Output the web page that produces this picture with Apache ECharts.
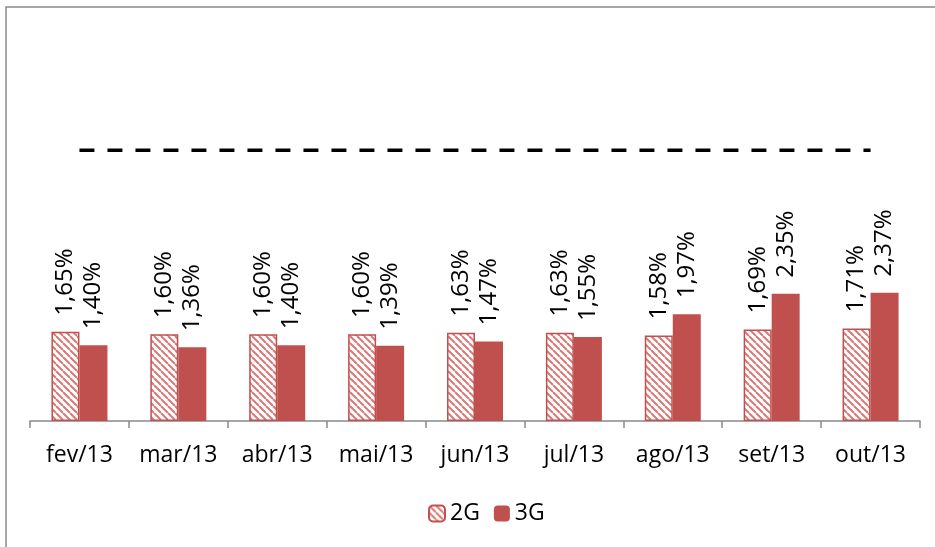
<!DOCTYPE html>
<html>
<head>
<meta charset="utf-8">
<script src="https://cdn.jsdelivr.net/npm/echarts@6/dist/echarts.min.js"></script>
<style>
html,body{margin:0;padding:0;background:#fff;}
#chart{width:935px;height:547px;}
</style>
</head>
<body>
<div id="chart"></div>
<script>
const categories = ['fev/13','mar/13','abr/13','mai/13','jun/13','jul/13','ago/13','set/13','out/13'];
const values2G = [1.65,1.60,1.60,1.60,1.63,1.63,1.58,1.69,1.71];
const values3G = [1.40,1.36,1.40,1.39,1.47,1.55,1.97,2.35,2.37];
const targetValues = [5,5,5,5,5,5,5,5,5];

function makeHatch(){
  const s = 7;
  const c = document.createElement('canvas');
  c.width = s; c.height = s;
  const g = c.getContext('2d');
  g.fillStyle = '#ffffff';
  g.fillRect(0,0,s,s);
  g.strokeStyle = '#d77a77';
  g.lineWidth = 2;
  for (const k of [-s,0,s]) {
    g.beginPath();
    g.moveTo(k,0);
    g.lineTo(k+s,s);
    g.stroke();
  }
  return c;
}
const hatch = makeHatch();
const FONT = 'Open Sans';
const fmt = p => p.value.toFixed(2).replace('.',',') + '%';

const chart = echarts.init(document.getElementById('chart'));
chart.setOption({
  animation:false,
  backgroundColor:'#ffffff',
  textStyle:{fontFamily:FONT},
  graphic:[{
    type:'rect',
    shape:{x:6,y:7,width:1000,height:1000},
    style:{fill:'none',stroke:'#8a8a8a',lineWidth:1.5},
    silent:true,
    z:-10
  }],
  grid:{left:30,right:15,top:42,bottom:126},
  legend:{
    data:[
      {name:'2G'},
      {name:'3G',itemStyle:{color:'#c0504d'}}
    ],
    left:423,
    top:497,
    itemWidth:16,
    itemHeight:16,
    itemGap:14,
    textStyle:{fontFamily:FONT,fontSize:23,color:'#000'}
  },
  xAxis:{
    type:'category',
    data:categories,
    axisLine:{lineStyle:{color:'#898989',width:1.5}},
    axisTick:{show:true,length:7,interval:0,lineStyle:{color:'#898989',width:1.5}},
    axisLabel:{fontFamily:FONT,fontSize:23,color:'#000',margin:23,interval:0}
  },
  yAxis:{
    type:'value',
    min:0,max:7,
    show:false,
    splitLine:{show:false}
  },
  series:[
    {
      name:'2G',
      type:'bar',
      data:values2G,
      barWidth:28,
      barGap:'0%',
      itemStyle:{color:{image:hatch,repeat:'repeat'},borderColor:'#c0504d',borderWidth:1.5},
      label:{show:true,position:'top',rotate:90,align:'left',verticalAlign:'middle',distance:16,
        formatter:fmt,fontFamily:FONT,fontSize:24,color:'#000'}
    },
    {
      name:'3G',
      type:'bar',
      data:values3G,
      barWidth:28,
      barGap:'0%',
      itemStyle:{color:'#c0504d'},
      label:{show:true,position:'top',rotate:90,align:'left',verticalAlign:'middle',distance:16,
        formatter:fmt,fontFamily:FONT,fontSize:24,color:'#000'}
    },
    {
      name:'Meta',
      type:'line',
      data:targetValues,
      symbol:'none',
      silent:true,
      z:5,
      lineStyle:{color:'#000',width:3.5,type:[15,13]}
    }
  ]
});
</script>
</body>
</html>
